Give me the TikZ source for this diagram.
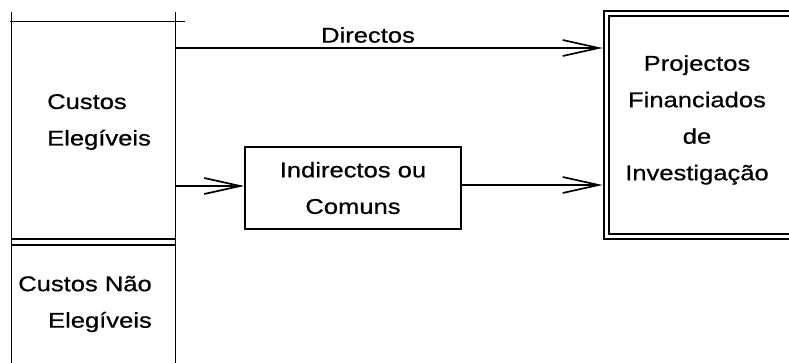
\documentclass[tikz,border=0pt]{standalone}
\usepackage{fontspec}
\setmainfont[FakeStretch=1.2,FakeBold=0.6]{Liberation Sans}
\usetikzlibrary{arrows.meta}
\begin{document}
\begin{tikzpicture}[x=1pt,y=-1pt,
  ln/.style={line width=1.7pt},
  lbl/.style={font=\fontsize{21.3}{36.5}\selectfont, inner sep=0pt},
  arr/.style={ln, -{Straight Barb[length=36pt,width=16pt,line width=1.7pt]}},
  box/.style={draw, ln, rectangle, inner sep=0pt}]
\useasboundingbox[fill=white] (0,0) rectangle (789,363);
% left column regions
\node[minimum width=164pt, minimum height=218pt, inner sep=0pt] (ce) at (93,130) {};
\node[minimum width=164pt, minimum height=118pt, inner sep=0pt] (cne) at (93,304) {};
\node[lbl, align=left, anchor=west] (cet) at (47,122) {Custos\\Elegíveis};
\node[lbl, align=right, anchor=east] (cnet) at (152,304) {Custos Não\\Elegíveis};
% column frame
\draw[ln] (11.5,12) -- (11.5,363);
\draw[ln] (175.5,12) -- (175.5,363);
\draw[ln] (10,21.5) -- (185,21.5);
\draw[ln] (11.5,239) -- (175.5,239);
\draw[ln] (11.5,245) -- (175.5,245);
% boxes
\node[box, lbl, minimum width=216pt, minimum height=82pt, align=center] (ind) at (353,188) {Indirectos ou\\Comuns};
\node[draw, double, double distance=3.5pt, line width=1.4pt, minimum width=200pt, minimum height=223pt, inner sep=0pt] (projbox) at (706.5,125) {};
\node[lbl, align=center] (proj) at (697,120) {Projectos\\Financiados\\de\\Investigação};
% connectors
\draw[arr, shorten >=3.2pt] (ce.east |- 0,48) -- (projbox.west |- 0,48);
\node[lbl] (dl) at (368,35) {Directos};
\draw[arr] (ce.east |- 0,186) -- (ind.west |- 0,186);
\draw[arr, shorten >=3.2pt] (ind.east |- 0,185) -- (projbox.west |- 0,185);
\end{tikzpicture}
\end{document}
